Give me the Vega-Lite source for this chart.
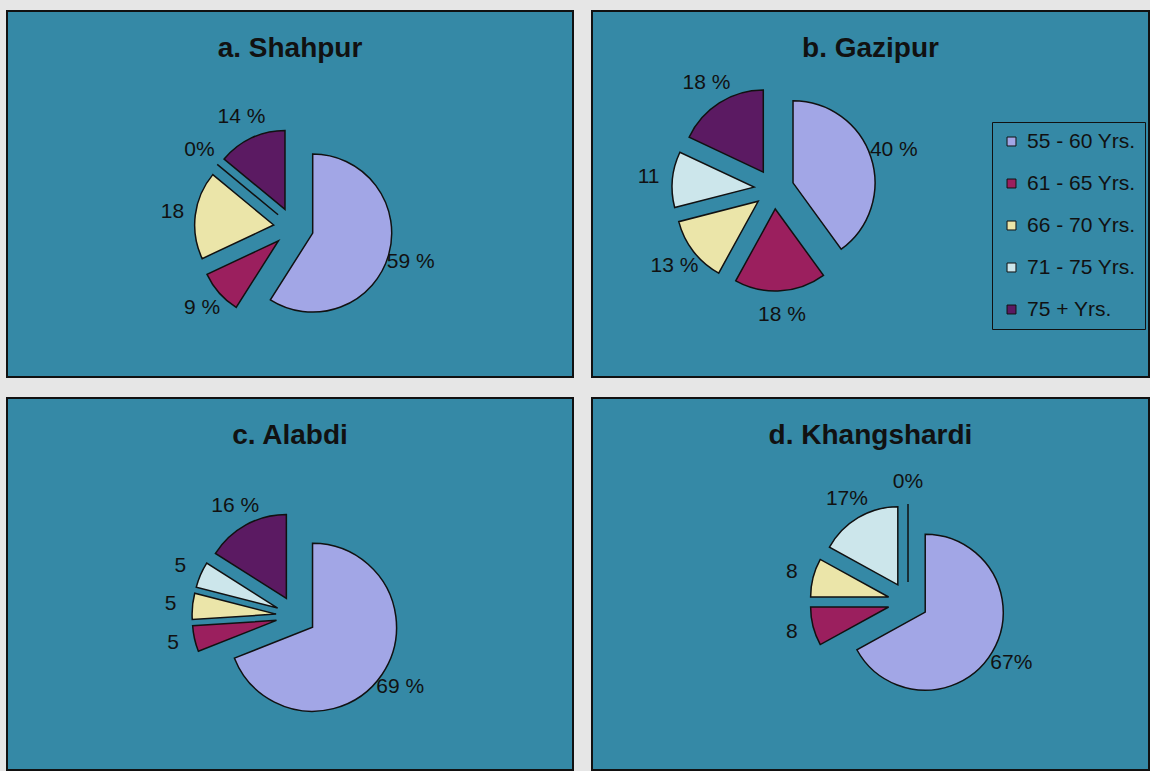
{
  "$schema": "https://vega.github.io/schema/vega-lite/v6.json",
  "background": "#e6e6e6",
  "padding": {"left": 6, "top": 10, "right": 0, "bottom": 0},
  "data": {"values": [
    {"district": "Shahpur", "age": "55 - 60 Yrs.", "pct": 59, "label": "59 %"},
    {"district": "Shahpur", "age": "61 - 65 Yrs.", "pct": 9, "label": "9 %"},
    {"district": "Shahpur", "age": "66 - 70 Yrs.", "pct": 18, "label": "18"},
    {"district": "Shahpur", "age": "71 - 75 Yrs.", "pct": 0, "label": "0%"},
    {"district": "Shahpur", "age": "75 + Yrs.", "pct": 14, "label": "14 %"},
    {"district": "Gazipur", "age": "55 - 60 Yrs.", "pct": 40, "label": "40 %"},
    {"district": "Gazipur", "age": "61 - 65 Yrs.", "pct": 18, "label": "18 %"},
    {"district": "Gazipur", "age": "66 - 70 Yrs.", "pct": 13, "label": "13 %"},
    {"district": "Gazipur", "age": "71 - 75 Yrs.", "pct": 11, "label": "11"},
    {"district": "Gazipur", "age": "75 + Yrs.", "pct": 18, "label": "18 %"},
    {"district": "Alabdi", "age": "55 - 60 Yrs.", "pct": 69, "label": "69 %"},
    {"district": "Alabdi", "age": "61 - 65 Yrs.", "pct": 5, "label": "5"},
    {"district": "Alabdi", "age": "66 - 70 Yrs.", "pct": 5, "label": "5"},
    {"district": "Alabdi", "age": "71 - 75 Yrs.", "pct": 5, "label": "5"},
    {"district": "Alabdi", "age": "75 + Yrs.", "pct": 16, "label": "16 %"},
    {"district": "Khangshardi", "age": "55 - 60 Yrs.", "pct": 67, "label": "67%"},
    {"district": "Khangshardi", "age": "61 - 65 Yrs.", "pct": 8, "label": "8"},
    {"district": "Khangshardi", "age": "66 - 70 Yrs.", "pct": 8, "label": "8"},
    {"district": "Khangshardi", "age": "71 - 75 Yrs.", "pct": 17, "label": "17%"},
    {"district": "Khangshardi", "age": "75 + Yrs.", "pct": 0, "label": "0%"}
  ]},
  "columns": 2,
  "spacing": {"row": 19, "column": 17},
  "concat": [
    {
      "width": 566, "height": 366,
      "view": {"fill": "#3589a6", "stroke": "#111", "strokeWidth": 2},
      "title": {"text": "a. Shahpur", "offset": -47, "dy": 27, "baseline": "alphabetic", "fontSize": 28, "fontWeight": "bold", "color": "#111", "font": "Liberation Sans"},
      "transform": [{"filter": "datum.district === 'Shahpur'"}],
      "encoding": {
        "theta": {"field": "pct", "type": "quantitative", "stack": true},
        "order": {"field": "age", "type": "ordinal", "sort": "ascending"},
        "color": {"field": "age", "type": "nominal", "legend": null,
          "scale": {"domain": ["55 - 60 Yrs.", "61 - 65 Yrs.", "66 - 70 Yrs.", "71 - 75 Yrs.", "75 + Yrs."], "range": ["#a2a6e6", "#9b1f5e", "#ebe5a9", "#cce6eb", "#5b1a62"]}}
      },
      "layer": [
        {"mark": {"type": "arc", "outerRadius": 79, "stroke": "#111", "strokeWidth": 1.5,
          "xOffset": {"expr": "3.5 + 20*sin(PI*(datum.pct_start+datum.pct_end)/100)"},
          "yOffset": {"expr": "33.5 - 20*cos(PI*(datum.pct_start+datum.pct_end)/100)"}}},
        {"mark": {"type": "text", "radius": 102, "fontSize": 21, "font": "Liberation Sans",
          "xOffset": {"expr": "3.5 + 20*sin(PI*(datum.pct_start+datum.pct_end)/100)"},
          "yOffset": {"expr": "33.5 - 20*cos(PI*(datum.pct_start+datum.pct_end)/100)"}},
         "encoding": {"text": {"field": "label"}, "color": {"value": "#111"}}}
      ]
    },
    {
      "width": 557, "height": 366,
      "view": {"fill": "#3589a6", "stroke": "#111", "strokeWidth": 2},
      "title": {"text": "b. Gazipur", "offset": -47, "dy": 27, "baseline": "alphabetic", "fontSize": 28, "fontWeight": "bold", "color": "#111", "font": "Liberation Sans"},
      "transform": [{"filter": "datum.district === 'Gazipur'"}],
      "encoding": {
        "theta": {"field": "pct", "type": "quantitative", "stack": true},
        "order": {"field": "age", "type": "ordinal", "sort": "ascending"},
        "color": {"field": "age", "type": "nominal",
          "scale": {"domain": ["55 - 60 Yrs.", "61 - 65 Yrs.", "66 - 70 Yrs.", "71 - 75 Yrs.", "75 + Yrs."], "range": ["#a2a6e6", "#9b1f5e", "#ebe5a9", "#cce6eb", "#5b1a62"]},
          "legend": {"orient": "none", "legendX": 400, "legendY": 111, "title": null,
            "symbolType": "square", "symbolSize": 80, "symbolStrokeColor": "#111", "symbolStrokeWidth": 1,
            "labelFontSize": 21, "labelFont": "Liberation Sans", "labelColor": "#111", "labelOffset": 5,
            "rowPadding": 20, "strokeColor": "#111", "padding": 9,
            "encode": {"symbols": {"update": {"stroke": {"value": "#111"}, "strokeWidth": {"value": 1}}}}}}
      },
      "layer": [
        {"mark": {"type": "arc", "outerRadius": 82, "stroke": "#111", "strokeWidth": 1.5,
          "xOffset": {"expr": "-96.5 + 20*sin(PI*(datum.pct_start+datum.pct_end)/100)"},
          "yOffset": {"expr": "-5 - 20*cos(PI*(datum.pct_start+datum.pct_end)/100)"}}},
        {"mark": {"type": "text", "radius": 106, "fontSize": 21, "font": "Liberation Sans",
          "xOffset": {"expr": "-96.5 + 20*sin(PI*(datum.pct_start+datum.pct_end)/100)"},
          "yOffset": {"expr": "-5 - 20*cos(PI*(datum.pct_start+datum.pct_end)/100)"}},
         "encoding": {"text": {"field": "label"}, "color": {"value": "#111"}}}
      ]
    },
    {
      "width": 566, "height": 372,
      "view": {"fill": "#3589a6", "stroke": "#111", "strokeWidth": 2},
      "title": {"text": "c. Alabdi", "offset": -47, "dy": 27, "baseline": "alphabetic", "fontSize": 28, "fontWeight": "bold", "color": "#111", "font": "Liberation Sans"},
      "transform": [{"filter": "datum.district === 'Alabdi'"}],
      "encoding": {
        "theta": {"field": "pct", "type": "quantitative", "stack": true},
        "order": {"field": "age", "type": "ordinal", "sort": "ascending"},
        "color": {"field": "age", "type": "nominal", "legend": null,
          "scale": {"domain": ["55 - 60 Yrs.", "61 - 65 Yrs.", "66 - 70 Yrs.", "71 - 75 Yrs.", "75 + Yrs."], "range": ["#a2a6e6", "#9b1f5e", "#ebe5a9", "#cce6eb", "#5b1a62"]}}
      },
      "layer": [
        {"mark": {"type": "arc", "outerRadius": 84, "stroke": "#111", "strokeWidth": 1.5,
          "xOffset": {"expr": "6 + 20*sin(PI*(datum.pct_start+datum.pct_end)/100)"},
          "yOffset": {"expr": "32 - 20*cos(PI*(datum.pct_start+datum.pct_end)/100)"}}},
        {"mark": {"type": "text", "radius": 106, "fontSize": 21, "font": "Liberation Sans",
          "xOffset": {"expr": "6 + 20*sin(PI*(datum.pct_start+datum.pct_end)/100)"},
          "yOffset": {"expr": "32 - 20*cos(PI*(datum.pct_start+datum.pct_end)/100)"}},
         "encoding": {"text": {"field": "label"}, "color": {"value": "#111"}}}
      ]
    },
    {
      "width": 557, "height": 372,
      "view": {"fill": "#3589a6", "stroke": "#111", "strokeWidth": 2},
      "title": {"text": "d. Khangshardi", "offset": -47, "dy": 27, "baseline": "alphabetic", "fontSize": 28, "fontWeight": "bold", "color": "#111", "font": "Liberation Sans"},
      "transform": [{"filter": "datum.district === 'Khangshardi'"}],
      "encoding": {
        "theta": {"field": "pct", "type": "quantitative", "stack": true},
        "order": {"field": "age", "type": "ordinal", "sort": "ascending"},
        "color": {"field": "age", "type": "nominal", "legend": null,
          "scale": {"domain": ["55 - 60 Yrs.", "61 - 65 Yrs.", "66 - 70 Yrs.", "71 - 75 Yrs.", "75 + Yrs."], "range": ["#a2a6e6", "#9b1f5e", "#ebe5a9", "#cce6eb", "#5b1a62"]}}
      },
      "layer": [
        {"mark": {"type": "arc", "outerRadius": 78, "stroke": "#111", "strokeWidth": 1.5,
          "xOffset": {"expr": "37.5 + 20*sin(PI*(datum.pct_start+datum.pct_end)/100)"},
          "yOffset": {"expr": "18 - 20*cos(PI*(datum.pct_start+datum.pct_end)/100)"}}},
        {"mark": {"type": "text", "radius": 100, "fontSize": 21, "font": "Liberation Sans",
          "xOffset": {"expr": "37.5 + 20*sin(PI*(datum.pct_start+datum.pct_end)/100)"},
          "yOffset": {"expr": "18 - 20*cos(PI*(datum.pct_start+datum.pct_end)/100)"}},
         "encoding": {"text": {"field": "label"}, "color": {"value": "#111"}}}
      ]
    }
  ],
  "resolve": {"scale": {"color": "independent", "theta": "independent"}, "legend": {"color": "independent"}},
  "config": {"view": {"fill": "#3589a6", "stroke": "#111", "strokeWidth": 2}, "font": "Liberation Sans"}
}
